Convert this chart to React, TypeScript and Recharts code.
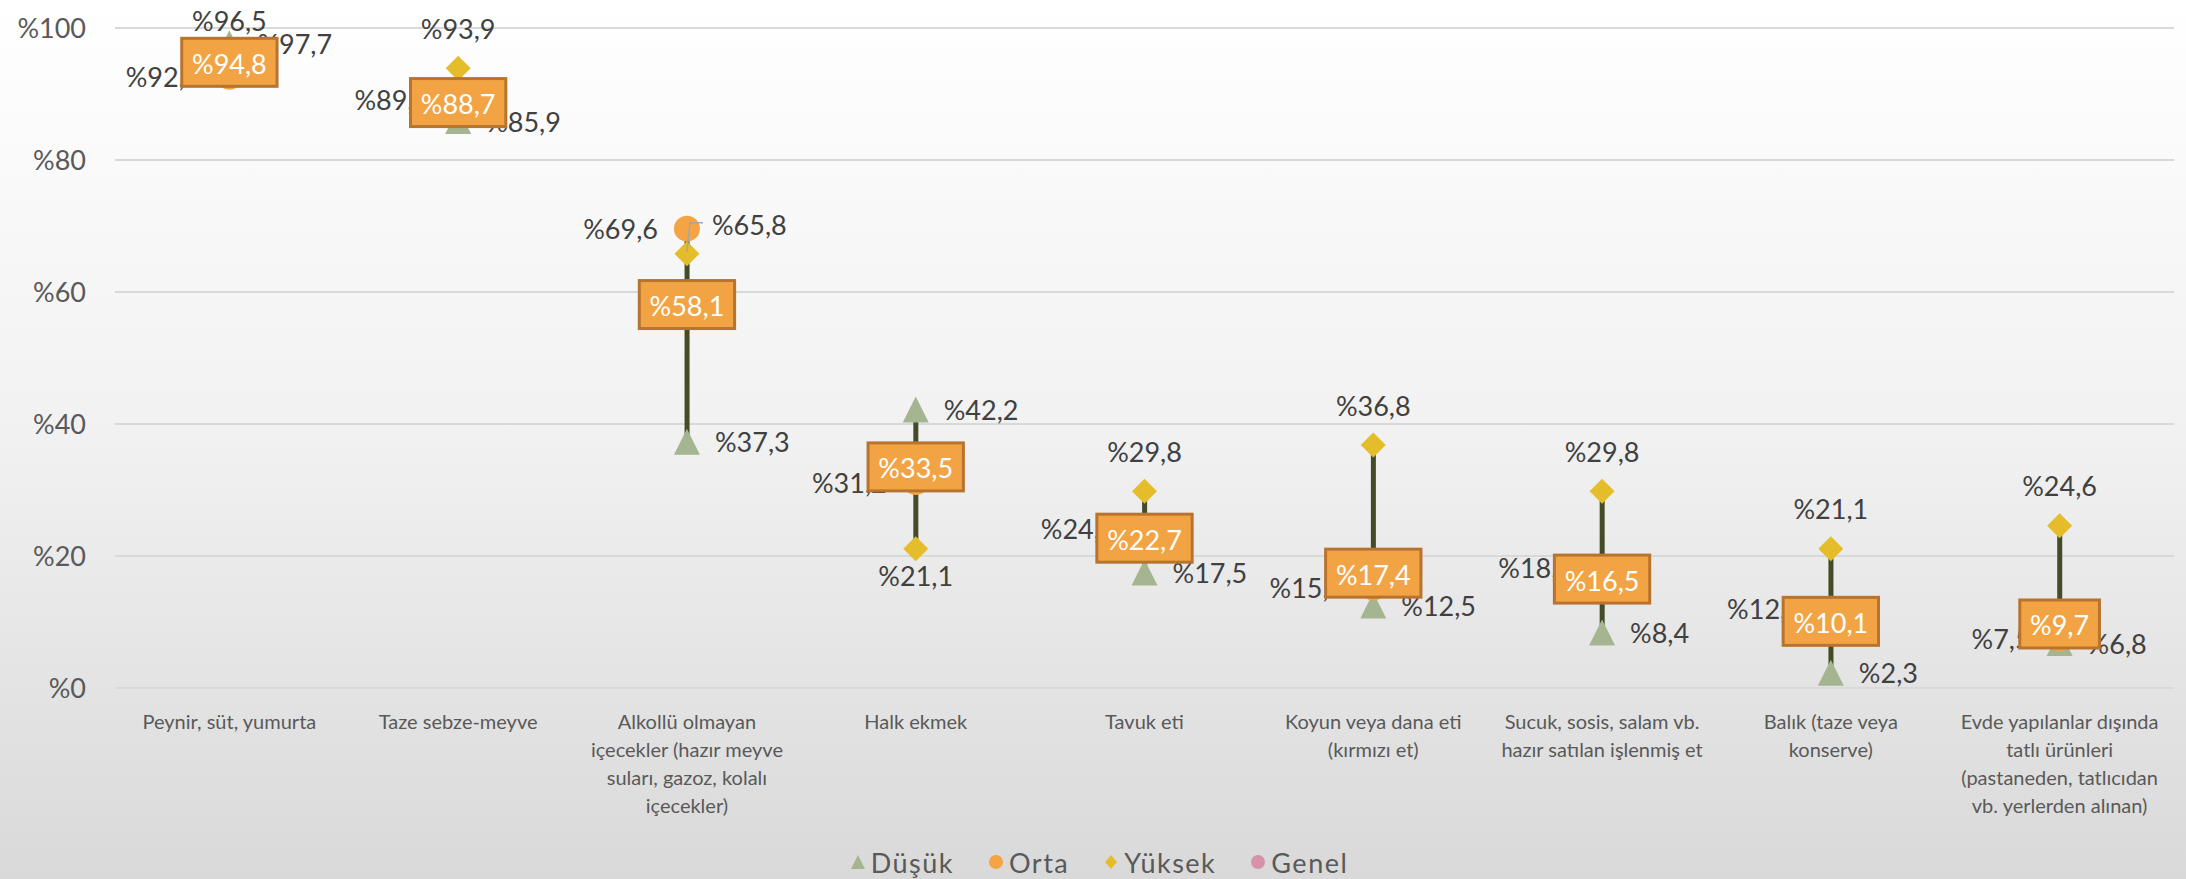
import React from "react";
import {
  Bar,
  CartesianGrid,
  ComposedChart,
  LabelList,
  Legend,
  Line,
  XAxis,
  YAxis,
} from "recharts";

// categories (line breaks as in the original axis labels)
const categories = [
  "Peynir, süt, yumurta",
  "Taze sebze-meyve",
  "Alkollü olmayan\niçecekler (hazır meyve\nsuları, gazoz, kolalı\niçecekler)",
  "Halk ekmek",
  "Tavuk eti",
  "Koyun veya dana eti\n(kırmızı et)",
  "Sucuk, sosis, salam vb.\nhazır satılan işlenmiş et",
  "Balık (taze veya\nkonserve)",
  "Evde yapılanlar dışında\ntatlı ürünleri\n(pastaneden, tatlıcıdan\nvb. yerlerden alınan)",
];

const dusuk = [97.7, 85.9, 37.3, 42.2, 17.5, 12.5, 8.4, 2.3, 6.8];
const orta = [92.6, 89.2, 69.6, 31.2, 24.2, 15.2, 18.2, 12.0, 7.5];
const yuksek = [96.5, 93.9, 65.8, 21.1, 29.8, 36.8, 29.8, 21.1, 24.6];
const genel = [94.8, 88.7, 58.1, 33.5, 22.7, 17.4, 16.5, 10.1, 9.7];

const yTicks = [0, 20, 40, 60, 80, 100];

const seriesNames = ["Düşük", "Orta", "Yüksek", "Genel"];

const chartData = categories.map((name, i) => {
  const vals = [dusuk[i], orta[i], yuksek[i], genel[i]];
  return {
    name,
    dusuk: dusuk[i],
    orta: orta[i],
    yuksek: yuksek[i],
    genel: genel[i],
    range: [Math.min(...vals), Math.max(...vals)],
  };
});

const FONT = "Lato, 'Open Sans', sans-serif";
const LABEL_COLOR = "#404040";
const AXIS_COLOR = "#595959";
const C_DUSUK = "#a5b592";
const C_ORTA = "#f4a444";
const C_YUKSEK = "#e5bd2b";
const C_GENEL = "#d692a8";

const fmt = (v: number) => "%" + v.toFixed(1).replace(".", ",");

// rough width of a label in Lato at a given size
const textWidth = (s: string, size: number) => {
  let w = 0;
  for (const ch of s) {
    if (ch === "%") w += 0.8;
    else if (ch === ",") w += 0.25;
    else w += 0.58;
  }
  return w * size;
};

const TriangleDot = (props: any) => {
  const { cx, cy, index } = props;
  if (cx == null || cy == null) return <g key={`t-${index}`} />;
  return (
    <path
      key={`t-${index}`}
      d={`M${cx},${cy - 13} L${cx + 13},${cy + 13} L${cx - 13},${cy + 13} Z`}
      fill={C_DUSUK}
    />
  );
};

const CircleDot = (color: string) => (props: any) => {
  const { cx, cy, index } = props;
  if (cx == null || cy == null) return <g key={`c-${index}`} />;
  return <circle key={`c-${index}`} cx={cx} cy={cy} r={13} fill={color} />;
};

const DiamondDot = (props: any) => {
  const { cx, cy, index } = props;
  if (cx == null || cy == null) return <g key={`d-${index}`} />;
  return (
    <path
      key={`d-${index}`}
      d={`M${cx},${cy - 12.5} L${cx + 12.5},${cy} L${cx},${cy + 12.5} L${cx - 12.5},${cy} Z`}
      fill={C_YUKSEK}
    />
  );
};

const labelText = (x: number, y: number, value: number, anchor: string) => (
  <text
    x={x}
    y={y}
    textAnchor={anchor}
    dominantBaseline="central"
    fontFamily={FONT}
    fontSize={27}
    fill={LABEL_COLOR}
  >
    {fmt(value)}
  </text>
);

const DusukLabel = (props: any) => {
  const { x, y, value } = props;
  return labelText(x + 28, y, value, "start");
};

const OrtaLabel = (props: any) => {
  const { x, y, value } = props;
  return labelText(x - 29, y, value, "end");
};

const YuksekLabel = (props: any) => {
  const { x, y, value, index } = props;
  if (index === 2) {
    // label moved to the right with a leader line
    return (
      <g>
        <polyline
          points={`${x},${y - 2} ${x + 3},${y - 31} ${x + 16},${y - 31}`}
          fill="none"
          stroke="#a6a6a6"
          strokeWidth={1.5}
        />
        {labelText(x + 25, y - 29, value, "start")}
      </g>
    );
  }
  if (index === 3) return labelText(x, y + 27, value, "middle");
  return labelText(x, Math.max(y - 40, 20), value, "middle");
};

const GenelLabel = (props: any) => {
  const { x, y, value } = props;
  const s = fmt(value);
  const w = textWidth(s, 27) + 20;
  const h = 48;
  return (
    <g>
      <rect
        x={x - w / 2}
        y={y - h / 2}
        width={w}
        height={h}
        fill="#f2a444"
        stroke="#b8742f"
        strokeWidth={3}
      />
      <text
        x={x}
        y={y + 1}
        textAnchor="middle"
        dominantBaseline="central"
        fontFamily={FONT}
        fontSize={27}
        fill="#ffffff"
      >
        {s}
      </text>
    </g>
  );
};

const CategoryTick = (props: any) => {
  const { x, y, payload } = props;
  const lines = String(payload.value).split("\n");
  return (
    <g>
      {lines.map((line, i) => (
        <text
          key={i}
          x={x}
          y={y + 33 + i * 28}
          textAnchor="middle"
          dominantBaseline="central"
          fontFamily={FONT}
          fontSize={20}
          fill={AXIS_COLOR}
        >
          {line}
        </text>
      ))}
    </g>
  );
};

const LegendIcon = ({ idx }: { idx: number }) => {
  if (idx === 0)
    return (
      <svg width={16} height={16}>
        <path d="M8,1 L15,15 L1,15 Z" fill={C_DUSUK} />
      </svg>
    );
  if (idx === 2)
    return (
      <svg width={16} height={16}>
        <path d="M8,1 L14,8 L8,15 L2,8 Z" fill={C_YUKSEK} />
      </svg>
    );
  return (
    <svg width={16} height={16}>
      <circle cx={8} cy={8} r={7} fill={idx === 1 ? C_ORTA : C_GENEL} />
    </svg>
  );
};

const renderLegend = () => (
  <div
    style={{
      display: "flex",
      justifyContent: "center",
      alignItems: "center",
      height: 30,
      paddingLeft: 24,
      fontFamily: FONT,
      fontSize: 27,
      letterSpacing: 1.5,
      color: AXIS_COLOR,
    }}
  >
    {seriesNames.map((n, i) => (
      <div
        key={n}
        style={{ display: "flex", alignItems: "center", marginRight: i < 3 ? 34 : 0 }}
      >
        <LegendIcon idx={i} />
        <span style={{ marginLeft: 5 }}>{n}</span>
      </div>
    ))}
  </div>
);

export default function App() {
  return (
    <div
      style={{
        width: 2186,
        height: 879,
        background: "linear-gradient(180deg, #ffffff 0%, #f1f1f1 50%, #d9d9d9 100%)",
      }}
    >
      <style>{"body{margin:0}"}</style>
      <ComposedChart
        width={2186}
        height={879}
        data={chartData}
        margin={{ top: 28, right: 12, left: 0, bottom: 2 }}
      >
        <CartesianGrid
          vertical={false}
          stroke="#d9d9d9"
          strokeWidth={2}
        />
        <XAxis
          dataKey="name"
          axisLine={false}
          tickLine={false}
          tickSize={0}
          tickMargin={0}
          height={159}
          interval={0}
          tick={<CategoryTick />}
        />
        <YAxis
          type="number"
          domain={[0, 100]}
          ticks={yTicks}
          width={115}
          axisLine={false}
          tickLine={false}
          tickSize={0}
          tickMargin={29}
          tickFormatter={(v: number) => "%" + v}
          tick={{ fill: AXIS_COLOR, fontSize: 27, fontFamily: FONT }}
        />
        <Legend verticalAlign="bottom" content={renderLegend} />
        <Bar
          dataKey="range"
          barSize={5}
          fill="#434c27"
          isAnimationActive={false}
        />
        <Line
          dataKey="dusuk"
          stroke="none"
          dot={TriangleDot}
          activeDot={false}
          isAnimationActive={false}
        >
          <LabelList dataKey="dusuk" content={DusukLabel} />
        </Line>
        <Line
          dataKey="orta"
          stroke="none"
          dot={CircleDot(C_ORTA)}
          activeDot={false}
          isAnimationActive={false}
        >
          <LabelList dataKey="orta" content={OrtaLabel} />
        </Line>
        <Line
          dataKey="yuksek"
          stroke="none"
          dot={DiamondDot}
          activeDot={false}
          isAnimationActive={false}
        >
          <LabelList dataKey="yuksek" content={YuksekLabel} />
        </Line>
        <Line
          dataKey="genel"
          stroke="none"
          dot={CircleDot(C_GENEL)}
          activeDot={false}
          isAnimationActive={false}
        >
          <LabelList dataKey="genel" content={GenelLabel} />
        </Line>
      </ComposedChart>
    </div>
  );
}
